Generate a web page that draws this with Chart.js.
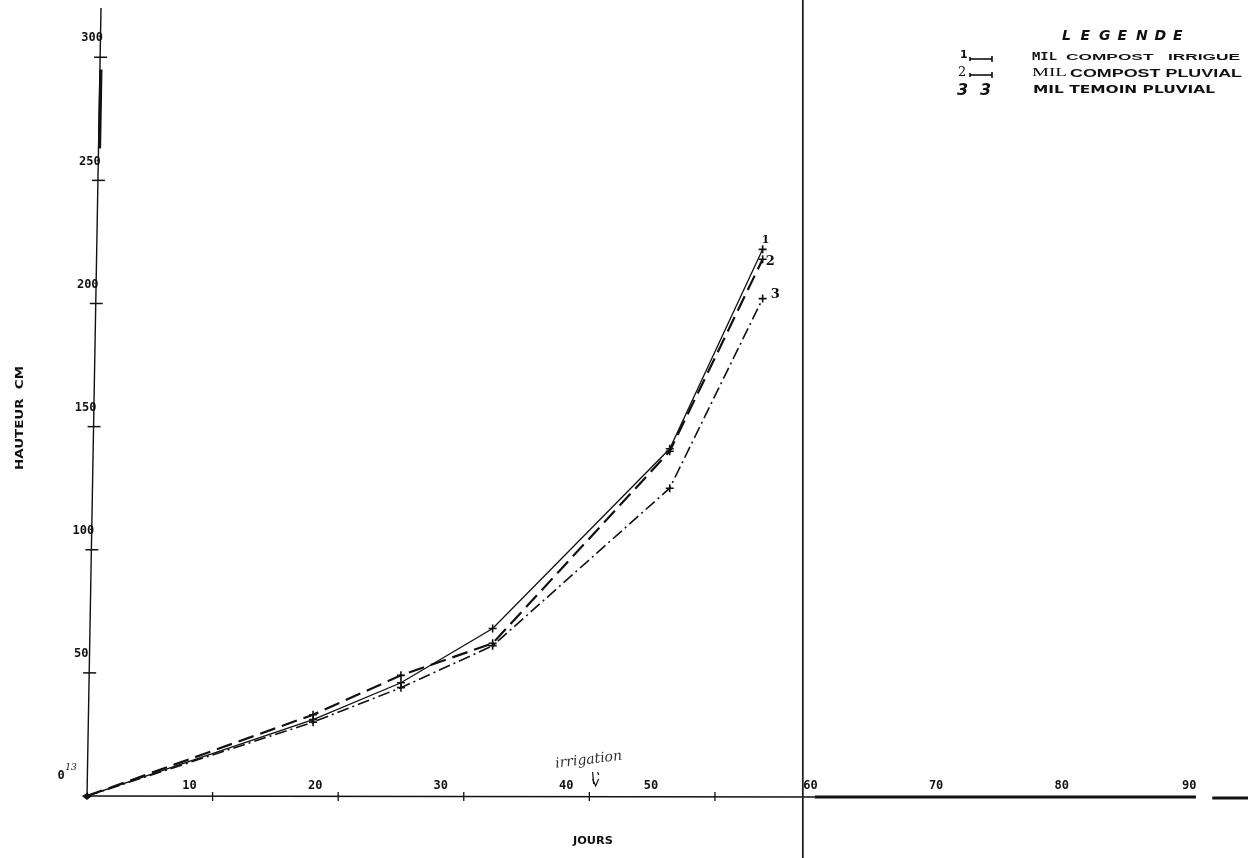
<!DOCTYPE html>
<html><head><meta charset="utf-8">
<script src="https://cdn.jsdelivr.net/npm/chart.js@4/dist/chart.umd.min.js"></script>
<style>html,body{margin:0;padding:0;background:#fff}canvas{display:block}</style>
</head><body>
<canvas id="c" width="1248" height="858"></canvas>
<script>
// ---- data ----
const days = [0, 18, 25, 32.3, 46.4, 53.8];
const compostIrrigue = [0, 31, 46, 68, 141, 222];
const compostPluvial = [0, 33, 49, 62, 140, 218];
const temoinPluvial = [0, 30, 44, 61, 125, 202];
const seriesTags = ['1', '2', '3'];
const xTickValues = [10, 20, 30, 40, 50, 60, 70, 80, 90];
const xTickLabels = ['10', '20', '30', '40', '50', '60', '70', '80', '90'];
const yTickValues = [50, 100, 150, 200, 250, 300];
const yTickLabels = ['50', '100', '150', '200', '250', '300'];
const yTitle = 'HAUTEUR  CM';
const xTitle = 'JOURS';
const legendTitle = 'LEGENDE';
const irrigationDay = 40.5;
const pageFoldDay = 57.0;

function pts(vals) { return days.map((d, i) => ({ x: d, y: vals[i] })); }

const INK = '#111';
// label shift (px) from each x tick, as printed on the original sheet
const xLabelShift = { 50: -64, 60: -30, 70: -30, 80: -30, 90: -28 };

const decor = {
  id: 'decor',
  afterDraw(chart) {
    const ctx = chart.ctx;
    const xs = chart.scales.x, ys = chart.scales.y;
    const x0 = xs.getPixelForValue(0), y0 = ys.getPixelForValue(0);
    const tilt = 14 / (y0 - chart.chartArea.top);
    const axisX = (py) => x0 + (y0 - py) * tilt;
    ctx.save();
    ctx.strokeStyle = INK; ctx.fillStyle = INK;
    ctx.lineCap = 'butt';
    // y axis (slightly skewed like the scan)
    ctx.lineWidth = 1.4;
    ctx.beginPath(); ctx.moveTo(x0, y0); ctx.lineTo(axisX(chart.chartArea.top), chart.chartArea.top); ctx.stroke();
    // heavy stroke segment on y axis
    ctx.lineWidth = 3.2;
    const ya = ys.getPixelForValue(295), yb = ys.getPixelForValue(263);
    ctx.beginPath(); ctx.moveTo(axisX(ya) + 1, ya); ctx.lineTo(axisX(yb) + 1, yb); ctx.stroke();
    // y ticks + labels
    ctx.lineWidth = 1.5;
    ctx.font = 'bold 12px "DejaVu Sans Mono"';
    ctx.textAlign = 'center'; ctx.textBaseline = 'middle';
    yTickValues.forEach((v, i) => {
      const py = ys.getPixelForValue(v), ax = axisX(py);
      ctx.beginPath(); ctx.moveTo(ax - 6, py); ctx.lineTo(ax + 7, py); ctx.stroke();
      ctx.fillText(yTickLabels[i], ax - 8, py - 19);
    });
    // origin label
    ctx.font = 'bold 12px "DejaVu Sans Mono"';
    ctx.fillText('0', x0 - 26, y0 - 20);
    ctx.font = 'italic 9px "DejaVu Serif"';
    ctx.fillText('13', x0 - 16, y0 - 28);
    // origin marker
    ctx.beginPath(); ctx.moveTo(x0 - 5, y0); ctx.lineTo(x0, y0 - 3); ctx.lineTo(x0 + 5, y0); ctx.lineTo(x0, y0 + 4); ctx.closePath(); ctx.fill();
    // x axis
    const xf = xs.getPixelForValue(pageFoldDay);
    ctx.lineWidth = 1.5;
    ctx.beginPath(); ctx.moveTo(x0, y0); ctx.lineTo(xf + 12, y0 + 1); ctx.stroke();
    ctx.lineWidth = 3;
    ctx.beginPath(); ctx.moveTo(xf + 12, y0 + 1); ctx.lineTo(xs.getPixelForValue(88.3), y0 + 1); ctx.stroke();
    ctx.beginPath(); ctx.moveTo(xs.getPixelForValue(89.6), y0 + 2); ctx.lineTo(chart.width, y0 + 2); ctx.stroke();
    // x ticks + labels
    ctx.lineWidth = 1.3;
    ctx.font = 'bold 12px "DejaVu Sans Mono"';
    xTickValues.forEach((v, i) => {
      const px = xs.getPixelForValue(v);
      if (v < 60) { ctx.beginPath(); ctx.moveTo(px, y0 - 4); ctx.lineTo(px, y0 + 5); ctx.stroke(); }
      const sh = (v in xLabelShift) ? xLabelShift[v] : -23;
      ctx.fillText(xTickLabels[i], px + sh, y0 - 10);
    });
    // page fold vertical line
    ctx.lineWidth = 1.8; ctx.strokeStyle = '#222';
    ctx.beginPath(); ctx.moveTo(xf, 0); ctx.lineTo(xf, chart.height); ctx.stroke();
    ctx.strokeStyle = INK;
    // axis titles
    ctx.font = 'bold 10px "DejaVu Sans"';
    ctx.save();
    ctx.translate(20, 418); ctx.rotate(-Math.PI / 2);
    drawFit(ctx, yTitle, -52, 0, 104);
    ctx.restore();
    drawFit(ctx, xTitle, 573, 841, 40);
    // end-of-line tags
    ctx.textAlign = 'left';
    const endX = xs.getPixelForValue(days[days.length - 1]);
    ctx.font = 'bold 11px "DejaVu Serif"';
    ctx.fillText(seriesTags[0], endX - 1, ys.getPixelForValue(compostIrrigue[5]) - 9);
    ctx.font = 'bold 13px "DejaVu Serif"';
    ctx.fillText(seriesTags[1], endX + 3, ys.getPixelForValue(compostPluvial[5]) + 2);
    ctx.fillText(seriesTags[2], endX + 8, ys.getPixelForValue(temoinPluvial[5]) - 4);
    // irrigation annotation
    const ix = xs.getPixelForValue(irrigationDay);
    ctx.save();
    ctx.translate(ix - 7, y0 - 36); ctx.rotate(-0.12);
    ctx.font = 'italic 14px "DejaVu Serif"'; ctx.textAlign = 'center';
    ctx.fillStyle = '#333';
    ctx.fillText('irrigation', 0, 0);
    ctx.restore();
    ctx.lineWidth = 1.2;
    ctx.beginPath(); ctx.moveTo(ix - 3, y0 - 24); ctx.lineTo(ix - 2, y0 - 12); ctx.stroke();
    ctx.beginPath(); ctx.moveTo(ix + 2, y0 - 24); ctx.lineTo(ix + 3, y0 - 21); ctx.stroke();
    ctx.beginPath(); ctx.moveTo(ix - 3, y0 - 17); ctx.lineTo(ix, y0 - 10); ctx.lineTo(ix + 3, y0 - 17); ctx.stroke();
    // legend
    ctx.textAlign = 'left'; ctx.textBaseline = 'middle'; ctx.fillStyle = INK;
    ctx.font = 'bold italic 14px "DejaVu Sans"';
    const lx = 1062, ls = 18.5;
    legendTitle.split('').forEach((ch, i) => ctx.fillText(ch, lx + i * ls, 36));
    const rows = [57, 73, 90];
    ctx.font = 'bold 11px "DejaVu Sans"';
    ctx.fillText('1', 960, rows[0] - 2);
    ctx.font = '13px "DejaVu Serif"';
    ctx.fillText('2', 958, rows[1]);
    ctx.lineWidth = 1.6;
    [rows[0], rows[1]].forEach(ry => {
      ctx.beginPath(); ctx.moveTo(970, ry + 2); ctx.lineTo(992, ry + 2); ctx.stroke();
      ctx.beginPath(); ctx.moveTo(992, ry - 1); ctx.lineTo(992, ry + 5); ctx.stroke();
      ctx.beginPath(); ctx.moveTo(970, ry); ctx.lineTo(970, ry + 4); ctx.stroke();
    });
    ctx.font = 'bold italic 16px "DejaVu Sans"';
    ctx.fillText('3', 957, rows[2] + 1);
    ctx.fillText('3', 980, rows[2] + 1);
    ctx.font = 'bold 11px "DejaVu Sans Mono"';
    drawFit(ctx, 'MIL', 1032, rows[0], 25);
    ctx.font = 'bold 9px "Liberation Sans"';
    drawFit(ctx, 'COMPOST   IRRIGUE', 1066, rows[0] + 1, 174);
    ctx.font = '13px "Liberation Serif"';
    drawFit(ctx, 'MIL', 1032, rows[1], 35);
    ctx.font = '900 11px "Liberation Sans Narrow", "Liberation Sans"';
    drawFit(ctx, 'COMPOST PLUVIAL', 1070, rows[1] + 1, 172);
    ctx.font = 'bold 10px "DejaVu Sans"';
    drawFit(ctx, 'MIL TEMOIN PLUVIAL', 1033, rows[2], 182);
    ctx.restore();
  }
};

function drawFit(ctx, text, x, y, w) {
  const m = ctx.measureText(text).width;
  ctx.save();
  ctx.translate(x, y);
  ctx.scale(w / m, 1);
  ctx.textAlign = 'left';
  ctx.fillText(text, 0, 0);
  ctx.restore();
}

new Chart(document.getElementById('c'), {
  type: 'line',
  data: {
    datasets: [
      { label: 'MIL COMPOST IRRIGUE', data: pts(compostIrrigue), borderColor: INK, borderWidth: 1.3,
        pointStyle: 'cross', pointRadius: 4, pointBorderWidth: 1.6, pointBorderColor: INK, tension: 0 },
      { label: 'MIL COMPOST PLUVIAL', data: pts(compostPluvial), borderColor: INK, borderWidth: 2.2, borderDash: [16, 7],
        pointStyle: 'cross', pointRadius: 4, pointBorderWidth: 1.6, pointBorderColor: INK, tension: 0 },
      { label: 'MIL TEMOIN PLUVIAL', data: pts(temoinPluvial), borderColor: INK, borderWidth: 1.6, borderDash: [12, 4, 2, 4],
        pointStyle: 'cross', pointRadius: 4, pointBorderWidth: 1.6, pointBorderColor: INK, tension: 0 }
    ]
  },
  options: {
    responsive: false,
    animation: false,
    layout: { padding: { left: 87, right: 2, top: 8, bottom: 62 } },
    plugins: { legend: { display: false }, tooltip: { enabled: false } },
    scales: {
      x: { type: 'linear', min: 0, max: 92, display: false },
      y: { type: 'linear', min: 0, max: 320, display: false }
    }
  },
  plugins: [decor]
});
</script>
</body></html>
